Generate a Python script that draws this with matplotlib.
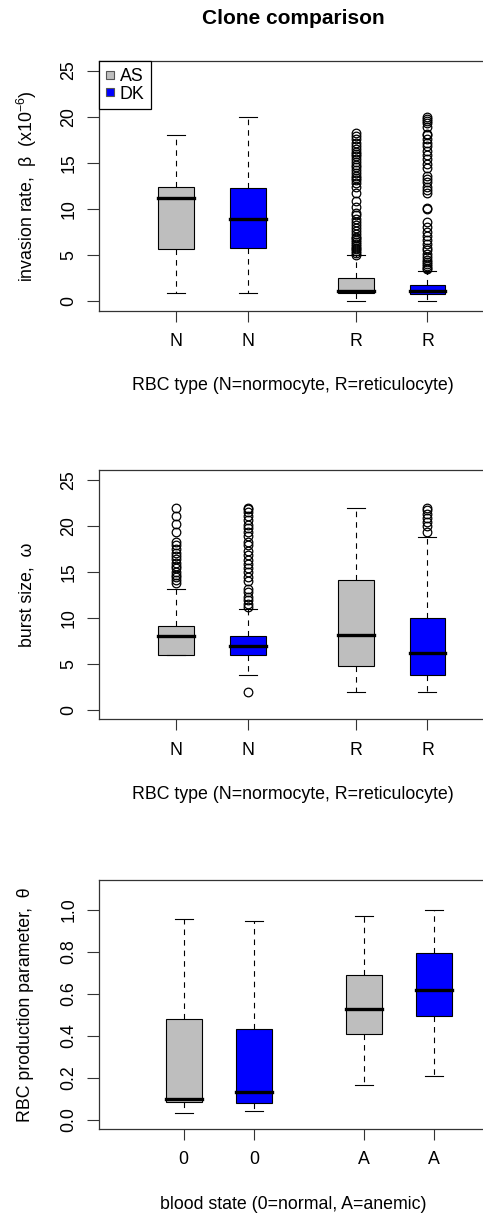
import matplotlib
matplotlib.use("Agg")
import matplotlib.pyplot as plt
from matplotlib.lines import Line2D

plt.rcParams['font.family'] = ['Liberation Sans', 'DejaVu Sans']
plt.rcParams['mathtext.fontset'] = 'custom'
plt.rcParams['mathtext.rm'] = 'Liberation Sans'
plt.rcParams['mathtext.it'] = 'Liberation Sans:italic'

# ---------------- data ----------------
clones = ["AS", "DK", "AS", "DK"]
colors = {"AS": "#BEBEBE", "DK": "#0000FF"}

rbc_labels = ["N", "N", "R", "R"]
state_labels = ["0", "0", "A", "A"]

# panel 1: invasion rate beta (x1e-6)
beta_lo = [0.85, 0.85, 0.0, 0.0]
beta_q1 = [5.6, 5.8, 0.9, 0.76]
beta_med = [11.2, 8.9, 1.05, 1.05]
beta_q3 = [12.4, 12.3, 2.53, 1.8]
beta_hi = [18.0, 20.0, 5.0, 3.3]
beta_out_AS_N = []
beta_out_DK_N = []
beta_out_AS_R = [18.2, 17.9, 17.6, 17.1, 16.8, 16.5, 16.2, 16.0, 15.7, 15.4, 15.1,
                 14.8, 14.5, 14.2, 13.9, 13.6, 13.3, 13.1, 12.8, 12.4, 11.7, 10.9,
                 10.2, 9.6, 9.3, 8.9, 8.6, 8.2, 7.9, 7.6, 7.3, 7.0, 6.8, 6.6, 6.4,
                 6.2, 6.0, 5.8, 5.6, 5.4, 5.2, 5.0]
beta_out_DK_R = [20.0, 19.8, 19.5, 19.3, 18.9, 18.1, 18.0, 17.6, 17.2, 16.8, 16.3,
                 15.8, 15.4, 14.9, 14.4, 13.6, 13.2, 12.9, 12.4, 12.1, 11.7, 10.05,
                 10.0, 8.6, 8.0, 7.5, 7.1, 6.6, 6.2, 5.8, 5.5, 5.1, 4.8, 4.5, 4.2,
                 4.0, 3.8, 3.6, 3.45]
beta_out = [beta_out_AS_N, beta_out_DK_N, beta_out_AS_R, beta_out_DK_R]

# panel 2: burst size omega
om_lo = [6.0, 3.8, 2.0, 2.0]
om_q1 = [6.0, 6.0, 4.75, 3.8]
om_med = [8.0, 7.0, 8.1, 6.2]
om_q3 = [9.1, 8.0, 14.1, 10.0]
om_hi = [13.1, 11.0, 22.0, 18.85]
om_out_AS_N = [22.0, 21.1, 20.2, 19.3, 18.3, 17.9, 17.5, 17.1, 16.7, 16.4, 16.0,
               15.7, 15.4, 15.0, 14.7, 14.4, 14.1, 13.8]
om_out_DK_N = [22.0, 21.8, 21.5, 21.1, 20.6, 20.1, 19.8, 19.3, 18.9, 18.3, 17.9,
               17.3, 16.8, 16.3, 15.9, 15.4, 15.0, 14.5, 14.0, 13.2, 12.8, 12.3,
               11.9, 11.5, 11.2, 2.0]
om_out_AS_R = []
om_out_DK_R = [22.0, 21.7, 21.3, 20.9, 20.4, 20.0, 19.3]
om_out = [om_out_AS_N, om_out_DK_N, om_out_AS_R, om_out_DK_R]

# panel 3: RBC production parameter theta
th_lo = [0.03, 0.04, 0.165, 0.208]
th_q1 = [0.086, 0.078, 0.409, 0.493]
th_med = [0.099, 0.13, 0.526, 0.62]
th_q3 = [0.48, 0.434, 0.688, 0.797]
th_hi = [0.959, 0.946, 0.97, 1.0]
th_out = [[], [], [], []]

# ---------------- layout ----------------
W, H = 483, 1217
fig = plt.figure(figsize=(W / 100, H / 100), dpi=100)

FS = 12.8
EDGE = "#333333"


def make_stats(lo, q1, med, q3, hi, out):
    return [dict(whislo=lo[i], q1=q1[i], med=med[i], q3=q3[i], whishi=hi[i],
                 fliers=out[i]) for i in range(len(med))]


def panel(rect, stats, positions, width, xlim, ylim, yticks, yfmt, ticklabels,
          xlabel, ylabel, ylab_x):
    ax = fig.add_axes(rect)
    bp = ax.bxp(stats, positions=positions, widths=width, capwidths=width * 0.5,
                patch_artist=True, manage_ticks=False,
                boxprops=dict(edgecolor="black", linewidth=0.8),
                whiskerprops=dict(color="black", linewidth=0.8, linestyle=(0, (5, 4.5))),
                capprops=dict(color="black", linewidth=0.8),
                medianprops=dict(color="black", linewidth=2.4, solid_capstyle="projecting"),
                flierprops=dict(marker="o", markerfacecolor="none",
                                markeredgecolor="black", markersize=6.2,
                                markeredgewidth=0.9, linestyle="none"))
    for patch, cl in zip(bp["boxes"], clones):
        patch.set_facecolor(colors[cl])
    ax.set_xlim(*xlim)
    ax.set_ylim(*ylim)
    ax.set_yticks(yticks)
    ax.set_yticklabels([yfmt.format(v) for v in yticks], rotation=90,
                       va="center", fontsize=FS)
    ax.set_xticks(positions)
    ax.set_xticklabels(ticklabels, fontsize=FS)
    ax.tick_params(axis="y", length=8.4, width=0.8, pad=7, color=EDGE)
    ax.tick_params(axis="x", length=8.0, width=0.8, pad=8, color=EDGE)
    for s in ["top", "left", "bottom"]:
        ax.spines[s].set_color(EDGE)
        ax.spines[s].set_linewidth(0.9)
    ax.spines["right"].set_visible(False)
    ax.set_xlabel(xlabel, fontsize=FS, va="center")
    axh = rect[3] * H
    axw = rect[2] * W
    ax.xaxis.set_label_coords(0.5, -75.3 / axh)
    ax.set_ylabel(ylabel, fontsize=FS, va="center", ha="center")
    ax.yaxis.set_label_coords(-(99 - ylab_x) / axw, 0.5)
    return ax


def rect_px(left, top, right, bottom):
    return [left / W, 1 - bottom / H, (right - left) / W, (bottom - top) / H]


pos12 = [1, 2, 3.5, 4.5]
pos3 = [1, 2, 3.57, 4.57]

ax1 = panel(rect_px(99, 61, 487, 310.7),
            make_stats(beta_lo, beta_q1, beta_med, beta_q3, beta_hi, beta_out),
            pos12, 0.5, (-0.078, 5.33), (-1.04, 26.04), [0, 5, 10, 15, 20, 25], "{:d}",
            rbc_labels, "RBC type (N=normocyte, R=reticulocyte)",
            "invasion rate,  β  (x10$^{-6}$)", 27)

ax2 = panel(rect_px(99, 470, 487, 719.3),
            make_stats(om_lo, om_q1, om_med, om_q3, om_hi, om_out),
            pos12, 0.5, (-0.078, 5.33), (-1.01, 26.08), [0, 5, 10, 15, 20, 25], "{:d}",
            rbc_labels, "RBC type (N=normocyte, R=reticulocyte)",
            "burst size,  ω", 27)

ax3 = panel(rect_px(99, 880, 487, 1129),
            make_stats(th_lo, th_q1, th_med, th_q3, th_hi, th_out),
            pos3, 0.52, (-0.21, 5.33), (-0.0445, 1.143), [0.0, 0.2, 0.4, 0.6, 0.8, 1.0],
            "{:.1f}", state_labels, "blood state (0=normal, A=anemic)",
            "RBC production parameter,  θ", 26)

# legend
handles = [Line2D([], [], marker="s", linestyle="none", markersize=5.5,
                  markerfacecolor=colors[c], markeredgecolor="#555555",
                  markeredgewidth=0.8) for c in ["AS", "DK"]]
leg = ax1.legend(handles, ["AS", "DK"], loc="upper left", bbox_to_anchor=(0, 1),
                 borderaxespad=0, fancybox=False, framealpha=1, edgecolor="black",
                 fontsize=FS, borderpad=0.38, labelspacing=0.05, handlelength=0.5,
                 handletextpad=0.3)
leg.get_frame().set_linewidth(0.9)

fig.text(293 / W, 1 - 18 / H, "Clone comparison", ha="center", va="center",
         fontsize=15, fontweight="bold")

fig.savefig("out.png", dpi=100)
